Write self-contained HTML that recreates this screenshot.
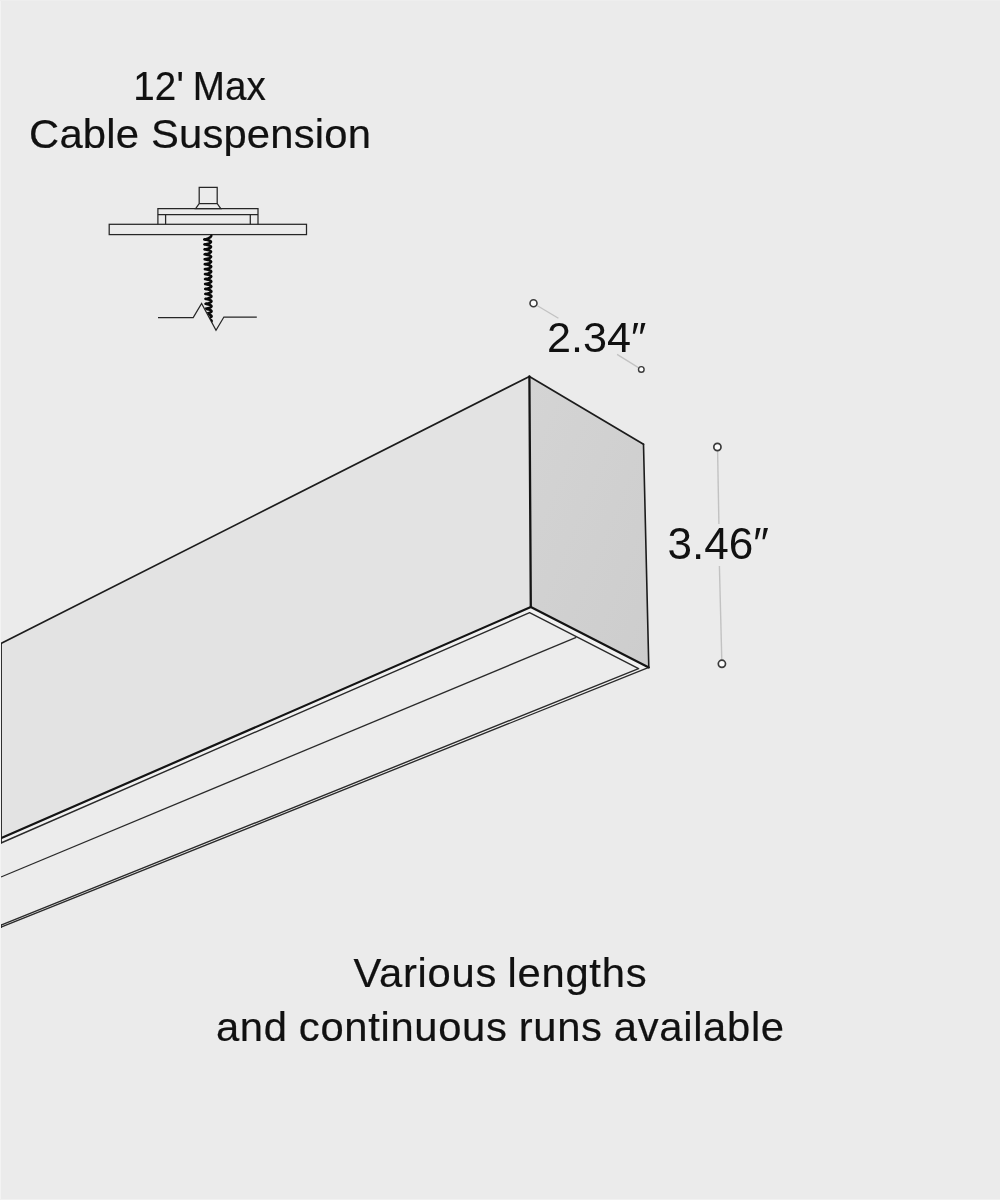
<!DOCTYPE html>
<html lang="en">
<head>
<meta charset="utf-8">
<title>Linear pendant dimensions</title>
<style>
  html, body { margin: 0; padding: 0; background: #ebebeb; }
  body { width: 1000px; height: 1200px; overflow: hidden; position: relative;
         font-family: "Liberation Sans", sans-serif; color: #111; }
  svg { position: absolute; left: 0; top: 0; display: block; will-change: transform; }
  text { font-family: "Liberation Sans", sans-serif; fill: #111; }
  text.lbl { stroke: #111; stroke-width: 0.2px; }
</style>
</head>
<body>
<svg width="1000" height="1200" viewBox="0 0 1000 1200">
  <defs>
    <linearGradient id="endg" x1="0" y1="0" x2="1" y2="1">
      <stop offset="0" stop-color="#d4d4d4"/>
      <stop offset="1" stop-color="#cdcdcd"/>
    </linearGradient>
    <clipPath id="coilclip"><polygon points="195,230 225,230 225,336 218.6,336 202.3,302.9 195,302.9"/></clipPath>
  </defs>

  <!-- fixture body -->
  <g id="fixture" stroke-linejoin="round" stroke-linecap="butt">
    <!-- side face -->
    <polygon points="529.4,376.4 530.8,607 1,838.3 1,643.4" fill="#e3e3e3" stroke="none"/>
    <!-- end face -->
    <polygon points="529.4,376.4 643.5,444.2 648.8,667.4 530.8,607" fill="url(#endg)" stroke="none"/>
    <!-- bottom face: frame band + recessed lens -->
    <polygon points="530.8,607 648.8,667.4 1,927.2 1,838.3" fill="#f1f1f1" stroke="none"/>
    <polygon points="529.6,612.6 638.6,668.6 1,925.2 1,843" fill="#ececec" stroke="none"/>

    <!-- thin detail lines -->
    <g fill="none" stroke="#2a2a2a" stroke-width="1.4">
      <polyline points="1,843 529.6,612.6 638.6,668.6 1,925.2"/>
      <line x1="1" y1="877" x2="576.2" y2="637.4" stroke-width="1.3"/>
      <line x1="1" y1="927.2" x2="648.8" y2="667.4" stroke-width="1.35"/>
      <line x1="1.15" y1="924.6" x2="1.15" y2="927.9" stroke-width="1.5"/>
    </g>
    <!-- heavy outlines -->
    <g fill="none" stroke="#1c1c1c" stroke-width="1.7" stroke-linecap="round">
      <polyline points="1.4,643.3 529.4,376.4 643.5,444.2"/>
      <polyline points="1.4,838.1 530.8,607 648.8,667.4" stroke-width="2.2" stroke="#141414"/>
      <line x1="529.4" y1="376.4" x2="530.8" y2="607" stroke-width="2.3" stroke="#141414"/>
      <line x1="643.5" y1="444.2" x2="648.8" y2="667.4" stroke-width="1.6"/>
      <line x1="1.15" y1="643.4" x2="1.15" y2="843.6" stroke-width="1.5" stroke-linecap="butt"/>
    </g>
  </g>

  <!-- dimension: width -->
  <g id="dim-w" fill="none" stroke="#c2c2c2" stroke-width="1.3">
    <line x1="537.4" y1="305.7" x2="558.4" y2="318.2"/>
    <line x1="617.1" y1="354.4" x2="638.4" y2="367.6"/>
    <circle cx="533.5" cy="303.3" r="3.5" fill="#fdfdfd" stroke="#3a3a3a" stroke-width="1.6"/>
    <circle cx="641.3" cy="369.4" r="2.8" fill="#fdfdfd" stroke="#3a3a3a" stroke-width="1.4"/>
  </g>
  <text id="t-w" transform="translate(546.9 351.7) scale(0.995 1)" font-size="43.4">2.34″</text>

  <!-- dimension: height -->
  <g id="dim-h" fill="none" stroke="#c2c2c2" stroke-width="1.4">
    <line x1="717.6" y1="451" x2="718.9" y2="524"/>
    <line x1="719.4" y1="566" x2="721.8" y2="660"/>
    <circle cx="717.4" cy="447" r="3.6" fill="#fdfdfd" stroke="#3a3a3a" stroke-width="1.7"/>
    <circle cx="721.9" cy="663.8" r="3.6" fill="#fdfdfd" stroke="#3a3a3a" stroke-width="1.7"/>
  </g>
  <text id="t-h" transform="translate(667.4 558.9) scale(1.012 1)" font-size="43.6">3.46″</text>

  <!-- suspension icon -->
  <g id="susp" fill="none" stroke="#262626" stroke-width="1.25" stroke-linejoin="miter">
    <rect x="109.2" y="224.3" width="197.3" height="10.3"/>
    <path d="M157.9 224.3 V208.7 H258 V224.3"/>
    <path d="M157.9 214.6 H258"/>
    <path d="M165.6 214.6 V224.3 M250.3 214.6 V224.3"/>
    <path d="M199.2 203.6 V187.3 H217.2 V203.6 L220.8 208.7 H195.6 Z"/>
    <path d="M199.2 203.6 H217.2"/>
    <path d="M158 317.6 H193.2 L201.6 303.4 L216 330.2 L223.9 317 H256.8"/>
  </g>
  <path id="coil" clip-path="url(#coilclip)" fill="none" stroke="#0a0a0a" stroke-width="2.5" stroke-linecap="round" stroke-linejoin="round" d="M211.30 235.90 L210.40 237.20 L207.60 238.75 L206.32 239.02 L205.24 239.21 L204.52 239.34 L204.27 239.44 L204.53 239.54 L205.26 239.67 L206.35 239.86 L207.63 240.12 L208.92 240.48 L210.00 240.90 L210.73 241.39 L210.98 241.91 L210.73 242.43 L210.01 242.92 L208.94 243.35 L207.67 243.70 L206.40 243.97 L205.33 244.16 L204.62 244.29 L204.37 244.39 L204.63 244.49 L205.35 244.62 L206.43 244.81 L207.70 245.07 L208.98 245.43 L210.05 245.85 L210.77 246.34 L211.03 246.86 L210.78 247.38 L210.07 247.87 L209.00 248.30 L207.74 248.65 L206.48 248.92 L205.42 249.11 L204.71 249.24 L204.47 249.34 L204.72 249.44 L205.44 249.57 L206.51 249.76 L207.77 250.02 L209.04 250.38 L210.10 250.80 L210.82 251.29 L211.07 251.81 L210.82 252.33 L210.12 252.82 L209.06 253.25 L207.81 253.60 L206.56 253.87 L205.51 254.06 L204.80 254.19 L204.56 254.29 L204.82 254.39 L205.53 254.52 L206.59 254.71 L207.84 254.97 L209.10 255.33 L210.15 255.75 L210.86 256.24 L211.11 256.76 L210.87 257.28 L210.17 257.77 L209.12 258.20 L207.88 258.55 L206.64 258.82 L205.60 259.01 L204.90 259.14 L204.66 259.24 L204.91 259.34 L205.62 259.47 L206.67 259.66 L207.91 259.92 L209.15 260.28 L210.21 260.70 L210.91 261.19 L211.16 261.71 L210.91 262.23 L210.22 262.72 L209.18 263.15 L207.95 263.50 L206.72 263.77 L205.68 263.96 L204.99 264.09 L204.75 264.19 L205.00 264.29 L205.71 264.42 L206.75 264.61 L207.98 264.88 L209.21 265.23 L210.26 265.65 L210.95 266.14 L211.20 266.66 L210.96 267.18 L210.27 267.67 L209.24 268.10 L208.02 268.45 L206.80 268.72 L205.77 268.91 L205.09 269.04 L204.85 269.14 L205.10 269.24 L205.79 269.37 L206.83 269.56 L208.05 269.82 L209.27 270.18 L210.31 270.60 L211.00 271.09 L211.24 271.61 L211.01 272.13 L210.32 272.62 L209.30 273.05 L208.09 273.40 L206.88 273.67 L205.86 273.86 L205.18 273.99 L204.95 274.09 L205.19 274.19 L205.88 274.32 L206.91 274.51 L208.12 274.77 L209.33 275.13 L210.36 275.55 L211.05 276.04 L211.29 276.56 L211.05 277.08 L210.37 277.57 L209.36 278.00 L208.16 278.35 L206.96 278.62 L205.95 278.81 L205.27 278.94 L205.04 279.04 L205.29 279.14 L205.97 279.27 L206.99 279.46 L208.19 279.72 L209.39 280.08 L210.41 280.50 L211.09 280.99 L211.33 281.51 L211.10 282.03 L210.42 282.52 L209.42 282.95 L208.23 283.30 L207.04 283.57 L206.04 283.76 L205.37 283.89 L205.14 283.99 L205.38 284.09 L206.06 284.22 L207.07 284.41 L208.26 284.68 L209.45 285.03 L210.46 285.45 L211.14 285.94 L211.38 286.46 L211.14 286.98 L210.48 287.47 L209.48 287.90 L208.30 288.25 L207.12 288.52 L206.13 288.71 L205.46 288.84 L205.23 288.94 L205.47 289.04 L206.15 289.17 L207.15 289.36 L208.33 289.62 L209.51 289.98 L210.51 290.40 L211.18 290.89 L211.42 291.41 L211.19 291.93 L210.53 292.42 L209.54 292.85 L208.37 293.20 L207.20 293.47 L206.21 293.66 L205.56 293.79 L205.33 293.89 L205.57 293.99 L206.24 294.12 L207.23 294.31 L208.40 294.57 L209.57 294.93 L210.57 295.35 L211.23 295.84 L211.46 296.36 L211.23 296.88 L210.58 297.37 L209.60 297.80 L208.44 298.15 L207.28 298.42 L206.30 298.61 L205.65 298.74 L205.43 298.84 L205.66 298.94 L206.32 299.07 L207.31 299.26 L208.47 299.52 L209.63 299.88 L210.62 300.30 L211.27 300.79 L211.51 301.31 L211.28 301.83 L210.63 302.32 L209.66 302.75 L208.51 303.10 L207.36 303.37 L206.39 303.56 L205.74 303.69 L205.52 303.79 L205.76 303.89 L206.41 304.02 L207.39 304.21 L208.54 304.47 L209.69 304.83 L210.67 305.25 L211.32 305.74 L211.55 306.26 L211.33 306.78 L210.68 307.27 L209.72 307.70 L208.58 308.05 L207.44 308.32 L206.48 308.51 L205.84 308.64 L205.62 308.74 L205.85 308.84 L206.50 308.97 L207.47 309.16 L208.61 309.43 L209.75 309.78 L210.72 310.20 L211.37 310.69 L211.59 311.21 L211.37 311.73 L210.73 312.22 L209.78 312.65 L208.65 313.00 L207.52 313.27 L206.57 313.46 L205.93 313.59 L205.71 313.69 L205.94 313.79 L206.59 313.92 L207.55 314.11 L208.68 314.38 L209.81 314.73 L210.77 315.15 L211.41 315.64 L211.64 316.16 L211.42 316.68 L210.78 317.17 L209.84 317.60 L208.72 317.95 L207.60 318.22 L206.66 318.41 L206.03 318.54 L205.81 318.64 L206.04 318.74 L206.68 318.87 L207.63 319.06 L208.75 319.32 L209.87 319.68 L210.82 320.10 L211.46 320.59 L211.68 321.11 L211.46 321.63 L210.83 322.12 L209.89 322.55 L208.79 322.90 L207.68 323.17 L206.74 323.36 L206.12 323.49"/>

  <!-- faint image-edge highlight -->
  <rect x="0" y="0" width="1" height="1200" fill="#f3f3f3"/>
  <rect x="0" y="1199" width="1000" height="1" fill="#f1f1f1"/>
  <rect x="0" y="0" width="1000" height="1" fill="#eeeeee"/>

  <!-- labels -->
  <text id="t1" class="lbl" word-spacing="-2" transform="translate(199.6 99.5) scale(0.965 1)" text-anchor="middle" font-size="40" textLength="137.4" lengthAdjust="spacing">12' Max</text>
  <text id="t2" class="lbl" transform="translate(200 148.2) scale(1.045 1)" text-anchor="middle" font-size="40" textLength="327.1" lengthAdjust="spacing">Cable Suspension</text>
  <text id="t3" class="lbl" word-spacing="-2" transform="translate(500 987.3) scale(1.045 1)" text-anchor="middle" font-size="40" textLength="280.6" lengthAdjust="spacing">Various lengths</text>
  <text id="t4" class="lbl" word-spacing="-1" transform="translate(500 1040.6) scale(1.045 1)" text-anchor="middle" font-size="40" textLength="543.7" lengthAdjust="spacing">and continuous runs available</text>
</svg>
</body>
</html>
